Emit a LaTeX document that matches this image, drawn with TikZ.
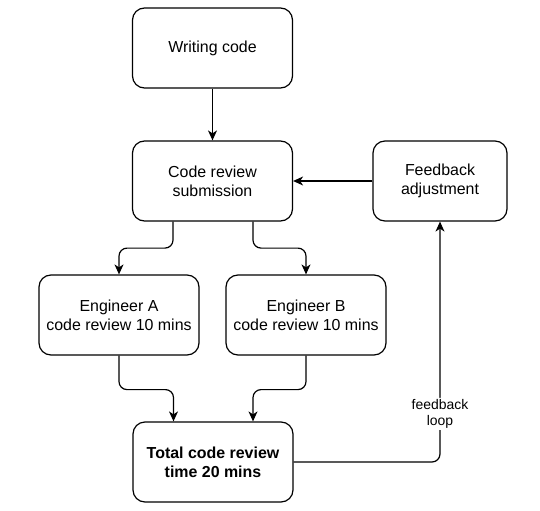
\documentclass[tikz,border=0pt]{standalone}
\usepackage{fontspec}
\setmainfont{Liberation Sans}
\usetikzlibrary{arrows.meta}
\begin{document}
\begin{tikzpicture}[x=1bp,y=-1bp,
    box/.style={draw,line width=1.2bp,rounded corners=12bp,minimum width=160bp,
      minimum height=80bp,inner sep=0pt,align=center,font=\fontsize{16}{19}\selectfont},
    link/.style={line width=1.2bp,rounded corners=8bp,-{Stealth[length=10bp,width=9bp,inset=3bp]}}]
      \useasboundingbox (0,0) rectangle (540,511);
      \draw
        (212.5,48) node[box] (write){Writing code}
        (212.5,181) node[box] (review){Code review\\submission}
        (440,181) node[box,minimum width=134bp] (feedback){Feedback\\adjustment}
        (119,315) node[box] (engA){Engineer A\\code review 10 mins}
        (306,315) node[box] (engB){Engineer B\\code review 10 mins}
        (213,462) node[box,font=\fontsize{16}{19}\selectfont\bfseries] (total){Total code review\\time 20 mins};
      \begin{scope}[link]
        \draw (write) to (review);
        \draw (feedback) to (review);
        \draw ([xshift=-39.5bp]review.south) -- ++(0,26.5) -| (engA.north);
        \draw ([xshift=40.5bp]review.south) -- ++(0,26.5) -| (engB.north);
        \draw (engA.south) -- ++(0,34) -| ([xshift=-39.5bp]total.north);
        \draw (engB.south) -- ++(0,34) -| ([xshift=40bp]total.north);
        \draw (total.east) -| node[pos=0.6,fill=white,align=center,inner sep=1bp,
          font=\fontsize{14}{17}\selectfont] (loop){feedback\\loop} (feedback.south);
      \end{scope}
    \end{tikzpicture}
\end{document}
